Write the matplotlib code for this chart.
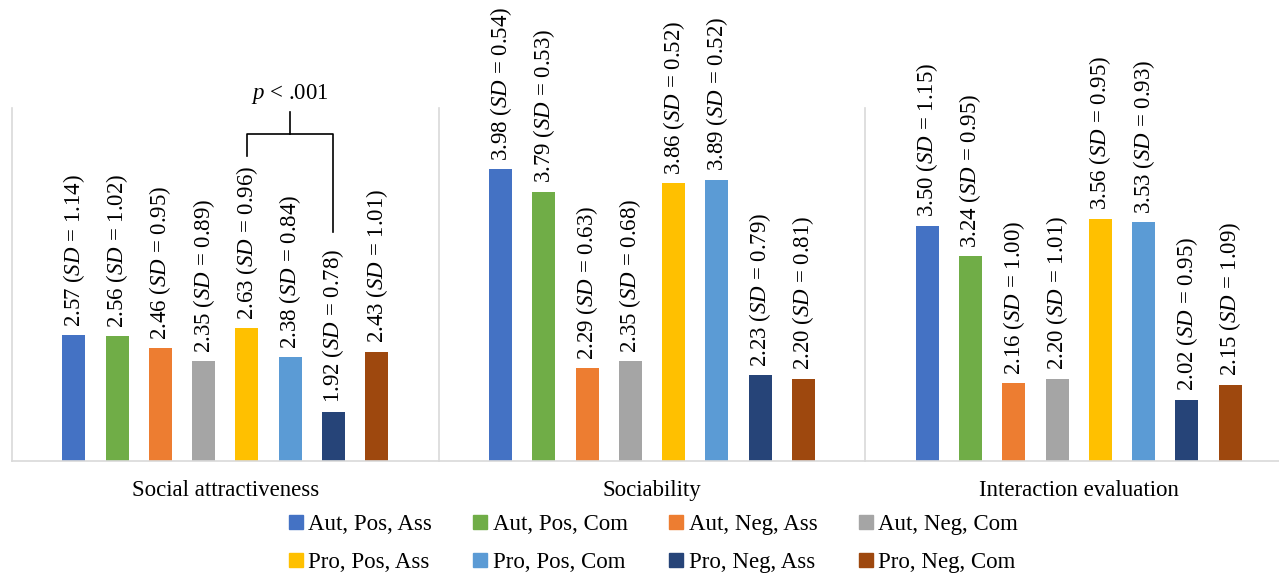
import matplotlib.pyplot as plt
from matplotlib.lines import Line2D
import numpy as np

plt.rcParams['font.family'] = ['Liberation Serif', 'DejaVu Serif']
plt.rcParams['mathtext.fontset'] = 'custom'
plt.rcParams['mathtext.rm'] = 'Liberation Serif'
plt.rcParams['mathtext.it'] = 'Liberation Serif:italic'

categories = ['Social attractiveness', 'Sociability', 'Interaction evaluation']
groups = ['Aut, Pos, Ass', 'Aut, Pos, Com', 'Aut, Neg, Ass', 'Aut, Neg, Com',
          'Pro, Pos, Ass', 'Pro, Pos, Com', 'Pro, Neg, Ass', 'Pro, Neg, Com']
colors = ['#4472C4', '#70AD47', '#ED7D31', '#A5A5A5',
          '#FFC000', '#5B9BD5', '#264478', '#9E480E']

social_means = [2.57, 2.56, 2.46, 2.35, 2.63, 2.38, 1.92, 2.43]
social_sds = [1.14, 1.02, 0.95, 0.89, 0.96, 0.84, 0.78, 1.01]
sociab_means = [3.98, 3.79, 2.29, 2.35, 3.86, 3.89, 2.23, 2.20]
sociab_sds = [0.54, 0.53, 0.63, 0.68, 0.52, 0.52, 0.79, 0.81]
inter_means = [3.50, 3.24, 2.16, 2.20, 3.56, 3.53, 2.02, 2.15]
inter_sds = [1.15, 0.95, 1.00, 1.01, 0.95, 0.93, 0.95, 1.09]

means = np.array([social_means, sociab_means, inter_means])
sds = np.array([social_sds, sociab_sds, inter_sds])

fig = plt.figure(figsize=(12.79, 5.74), dpi=100)
ax = fig.add_axes([12 / 1279, 113 / 574, 1280 / 1279, 353 / 574])

FS = 16.5
slot = 0.1014
width = 0.054
x = np.arange(len(categories))

for i, g in enumerate(groups):
    xs = x + (i - 3.5) * slot
    ax.bar(xs, means[:, i], width=width, bottom=0, color=colors[i], label=g, zorder=2)
    for xi, m, s in zip(xs, means[:, i], sds[:, i]):
        ax.annotate('%.2f ($\\mathit{SD}$ = %.2f)' % (m, s), (xi, m),
                    xytext=(0, 6), textcoords='offset points',
                    rotation=90, ha='center', va='bottom', fontsize=FS,
                    annotation_clip=False)

ax.set_xlim(-0.5, 2.5)
ax.set_ylim(1.5, 4.5)

# category separators
for sep in np.arange(-0.5, 3.0, 1.0):
    ax.plot([sep, sep], [1.5, 4.5], color='#D9D9D9', lw=1.2, zorder=1, clip_on=False)

for side in ['top', 'right', 'left']:
    ax.spines[side].set_visible(False)
ax.spines['bottom'].set_color('#D9D9D9')
ax.spines['bottom'].set_linewidth(1.2)
ax.set_yticks([])
ax.set_xticks(x)
ax.set_xticklabels(categories, fontsize=FS)
ax.tick_params(axis='x', length=0, pad=14)

# significance bracket between Pro, Pos, Ass and Pro, Neg, Ass
xl = x[0] + (4 - 3.5) * slot
xr = x[0] + (6 - 3.5) * slot
ytop = 4.276
ax.plot([xl, xl, xr, xr], [4.09, ytop, ytop, 3.45], color='black', lw=1.2, clip_on=False)
xm = (xl + xr) / 2
ax.plot([xm, xm], [ytop, 4.47], color='black', lw=1.2, clip_on=False)
ax.text(xm, 4.62, '$\\mathit{p}$ < .001', ha='center', va='center', fontsize=FS)

# legend fills column by column, so interleave to get two rows of four
order = [0, 4, 1, 5, 2, 6, 3, 7]
handles = [Line2D([], [], marker='s', color=colors[k], ls='', markersize=9.5) for k in order]
labels = [groups[k] for k in order]
fig.legend(handles, labels, loc='center', bbox_to_anchor=(0.511, 0.053), ncol=4,
           frameon=False, fontsize=FS, handlelength=0.6, handletextpad=0.25,
           columnspacing=1.8, labelspacing=0.77)

fig.savefig('out.png', dpi=100)
